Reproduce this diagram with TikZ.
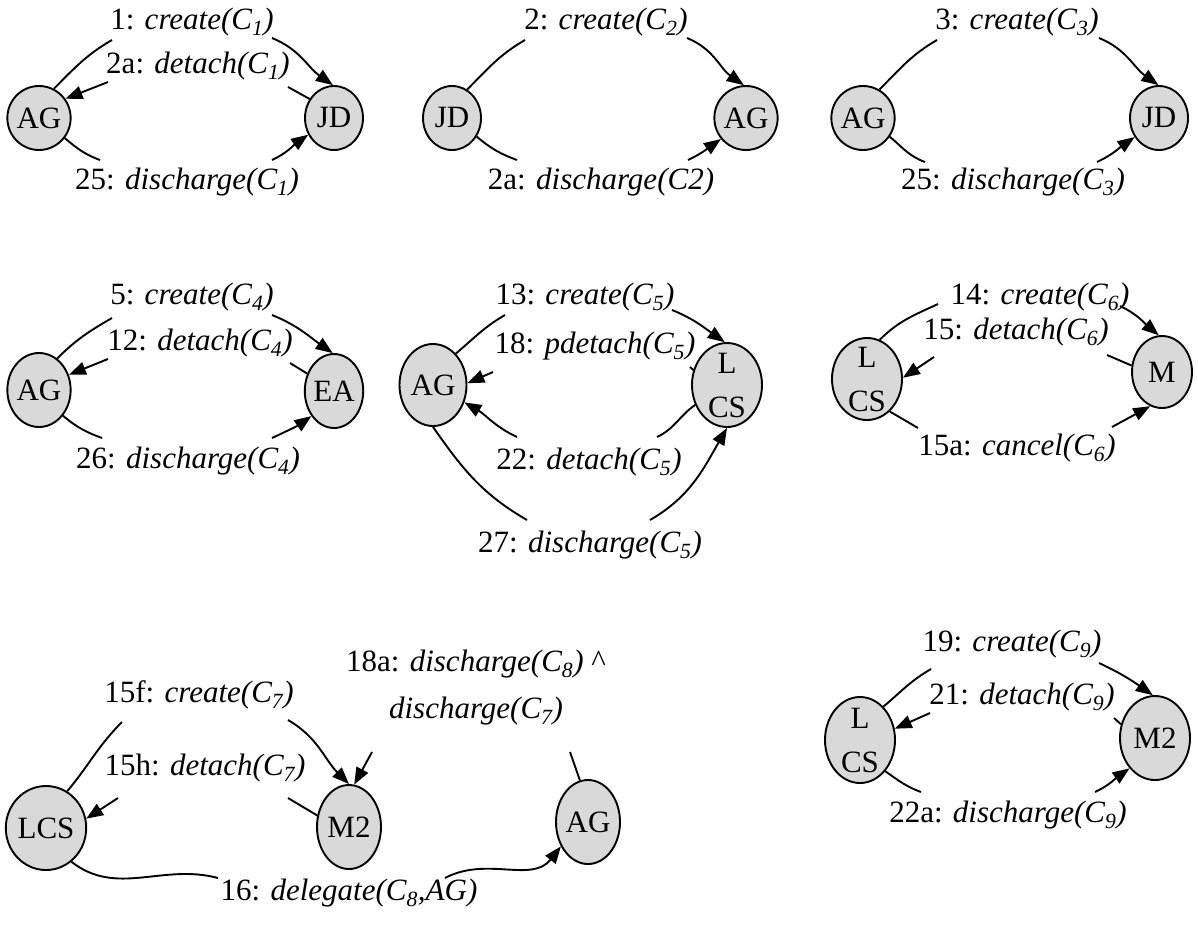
\documentclass[tikz,border=0pt]{standalone}
\usepackage{fontspec}
\setmainfont{Liberation Serif}
\usetikzlibrary{shapes.geometric,arrows.meta}
\newcommand\lblfont{\fontsize{31}{47}\selectfont}
\newcommand\agfont{\fontsize{31}{44}\selectfont}
\tikzset{
  agent/.style={ellipse, draw, line width=1.9pt, fill=black!15, inner sep=0pt,
    minimum width=58pt, minimum height=64pt, font=\agfont},
  agtxt/.style={align=center, font=\agfont, inner sep=0pt},
  lbl/.style={inner sep=0pt, font=\lblfont},
  conn/.style={line width=1.9pt},
  arr/.style={line width=1.9pt, -{Triangle[length=17pt,width=13pt]}},
}
\begin{document}
\begin{tikzpicture}[x=1pt,y=1pt]
\useasboundingbox (0,0) rectangle (1198,-926);
% ---------------- Diagram 1
\node[agent] (AG1) at (39,-118) {AG};
\node[agent] (JD1) at (334,-118) {JD};
\node[lbl] (t1) at (192,-22) {1: \textit{create(C\textsubscript{1})}};
\node[lbl] (t2) at (198,-66) {2a: \textit{detach(C\textsubscript{1})}};
\node[lbl] (t3) at (187,-182) {25: \textit{discharge(C\textsubscript{1})}};
\coordinate (p1) at (112,-40); \coordinate (q1) at (272,-38);
\coordinate (p2) at (288,-87); \coordinate (q2) at (108,-82);
\coordinate (p3) at (100,-160); \coordinate (q3) at (272,-160);
\draw[conn] (AG1.63) to[out=45,in=210] (p1);
\draw[arr] (q1) to[out=-22,in=145] (JD1.92);
\draw[conn] (JD1.142) -- (p2);
\draw[arr] (q2) -- (AG1.36);
\draw[conn] (AG1.-38) to[out=-40,in=160] (p3);
\draw[arr] (q3) to[out=25,in=-145] (JD1.-147);
% ---------------- Diagram 2
\node[agent] (JD2) at (452,-118) {JD};
\node[agent] (AG2) at (746,-118) {AG};
\node[lbl] (t4) at (606,-22) {2: \textit{create(C\textsubscript{2})}};
\node[lbl] (t5) at (601,-182) {2a: \textit{discharge(C2)}};
\coordinate (p4) at (525,-40); \coordinate (q4) at (687,-38);
\coordinate (p5) at (517,-160); \coordinate (q5) at (688,-160);
\draw[conn] (JD2.62) to[out=45,in=210] (p4);
\draw[arr] (q4) to[out=-22,in=145] (AG2.94);
\draw[conn] (JD2.-37) to[out=-40,in=160] (p5);
\draw[arr] (q5) to[out=25,in=-145] (AG2.-140);
% ---------------- Diagram 3
\node[agent] (AG3) at (863,-118) {AG};
\node[agent] (JD3) at (1159,-118) {JD};
\node[lbl] (t6) at (1017,-22) {3: \textit{create(C\textsubscript{3})}};
\node[lbl] (t7) at (1013,-182) {25: \textit{discharge(C\textsubscript{3})}};
\coordinate (p6) at (937,-40); \coordinate (q6) at (1099,-38);
\coordinate (p7) at (925,-162); \coordinate (q7) at (1097,-162);
\draw[conn] (AG3.60) to[out=45,in=210] (p6);
\draw[arr] (q6) to[out=-22,in=145] (JD3.91);
\draw[conn] (AG3.-35) to[out=-40,in=160] (p7);
\draw[arr] (q7) to[out=25,in=-145] (JD3.-142);
% ---------------- Diagram 4
\node[agent, minimum height=74pt] (AG4) at (39,-390) {AG};
\node[agent, minimum height=74pt] (EA4) at (334,-391) {EA};
\node[lbl] (t8) at (192,-297) {5: \textit{create(C\textsubscript{4})}};
\node[lbl] (t9) at (200,-343) {12: \textit{detach(C\textsubscript{4})}};
\node[lbl] (t10) at (188,-461) {26: \textit{discharge(C\textsubscript{4})}};
\coordinate (p8) at (112,-318); \coordinate (q8) at (272,-315);
\coordinate (p9) at (290,-363); \coordinate (q9) at (108,-359);
\coordinate (p10) at (102,-438); \coordinate (q10) at (272,-438);
\draw[conn] (AG4.60) to[out=45,in=210] (p8);
\draw[arr] (q8) to[out=-22,in=145] (EA4.92);
\draw[conn] (EA4.147) -- (p9);
\draw[arr] (q9) -- (AG4.27);
\draw[conn] (AG4.-47) to[out=-40,in=160] (p10);
\draw[arr] (q10) to[out=25,in=-145] (EA4.-132);
% ---------------- Diagram 5
\node[agent, minimum width=67pt, minimum height=82pt] (AG5) at (433,-385) {AG};
\node[agent, minimum width=70pt, minimum height=84pt, label={[agtxt]center:L\\CS}] (LCS5) at (727,-385) {};
\node[lbl] (t11) at (585,-297) {13: \textit{create(C\textsubscript{5})}};
\node[lbl] (t12) at (595,-346) {18: \textit{pdetach(C\textsubscript{5})}};
\node[lbl] (t13) at (589,-462) {22: \textit{detach(C\textsubscript{5})}};
\node[lbl] (t14) at (590,-545) {27: \textit{discharge(C\textsubscript{5})}};
\coordinate (p11) at (505,-315); \coordinate (q11) at (672,-310);
\coordinate (p12) at (690,-367); \coordinate (q12) at (493,-372);
\coordinate (p13) at (657,-437); \coordinate (q13) at (517,-437);
\coordinate (p14) at (527,-520); \coordinate (q14) at (650,-520);
\draw[conn] (AG5.54) to[out=40,in=210] (p11);
\draw[arr] (q11) to[out=-22,in=145] (LCS5.93);
\draw[conn] (LCS5.156) -- (p12);
\draw[arr] (q12) -- (AG5.3);
\draw[conn] (LCS5.212) to[out=215,in=25] (p13);
\draw[arr] (q13) to[out=155,in=-30] (AG5.-29);
\draw[conn] (AG5.-90) to[out=-55,in=150] (p14);
\draw[arr] (q14) to[out=30,in=-120] (LCS5.-90);
% ---------------- Diagram 6
\node[agent, minimum width=70pt, minimum height=82pt, label={[agtxt]center:L\\CS}] (LCS6) at (867,-379) {};
\node[agent, minimum width=60pt, minimum height=72pt] (M6) at (1162,-372) {M};
\node[lbl] (t15) at (1040,-297) {14: \textit{create(C\textsubscript{6})}};
\node[lbl] (t16) at (1016,-332) {15: \textit{detach(C\textsubscript{6})}};
\node[lbl] (t17) at (1017,-448) {15a: \textit{cancel(C\textsubscript{6})}};
\coordinate (p15) at (938,-304); \coordinate (q15) at (1120,-306);
\coordinate (p16) at (1107,-355); \coordinate (q16) at (934,-357);
\coordinate (p17) at (918,-428); \coordinate (q17) at (1112,-427);
\draw[conn] (LCS6.72) to[out=45,in=205] (p15);
\draw[arr] (q15) to[out=-25,in=140] (M6.95);
\draw[conn] (M6.168) -- (p16);
\draw[arr] (q16) -- (LCS6.2);
\draw[conn] (LCS6.-55) -- (p17);
\draw[arr] (q17) -- (M6.251);
% ---------------- Diagram 7
\node[agent, minimum width=70pt, minimum height=84pt] (LCS7) at (46,-828) {LCS};
\node[agent, minimum width=64pt, minimum height=84pt] (M27) at (349,-827) {M2};
\node[agent, minimum width=64pt, minimum height=84pt] (AG7) at (588,-822) {AG};
\node[lbl] (t18) at (199,-695) {15f: \textit{create(C\textsubscript{7})}};
\node[lbl] (t19) at (205,-768) {15h: \textit{detach(C\textsubscript{7})}};
\node[lbl, align=center] (t20) at (476,-688) {18a: \textit{discharge(C\textsubscript{8})} \textasciicircum\\\textit{discharge(C\textsubscript{7})}};
\node[lbl] (t21) at (349,-893) {16: \textit{delegate(C\textsubscript{8},AG)}};
\coordinate (p18) at (122,-722); \coordinate (q18) at (288,-720);
\coordinate (p19) at (288,-798); \coordinate (q19) at (118,-798);
\coordinate (p20) at (570,-752); \coordinate (q20) at (372,-752);
\coordinate (p21) at (218,-878); \coordinate (q21) at (445,-878);
\draw[conn] (LCS7.60) to[out=50,in=225] (p18);
\draw[arr] (q18) to[out=-30,in=135] (M27.90);
\draw[conn] (M27.160) -- (p19);
\draw[arr] (q19) -- (LCS7.13);
\draw[conn] (AG7.101) -- (p20);
\draw[arr] (q20) -- (M27.83);
\draw[conn] (LCS7.-53) to[out=-38,in=165] (p21);
\draw[arr] (q21) to[out=28,in=-128] (AG7.222);
% ---------------- Diagram 8
\node[agent, minimum width=70pt, minimum height=86pt, label={[agtxt]center:L\\CS}] (LCS8) at (860,-740) {};
\node[agent, minimum width=70pt, minimum height=84pt] (M28) at (1155,-738) {M2};
\node[lbl] (t22) at (1012,-644) {19: \textit{create(C\textsubscript{9})}};
\node[lbl] (t23) at (1022,-697) {21: \textit{detach(C\textsubscript{9})}};
\node[lbl] (t24) at (1008,-815) {22a: \textit{discharge(C\textsubscript{9})}};
\coordinate (p22) at (931,-669); \coordinate (q22) at (1099,-663);
\coordinate (p23) at (1114,-718); \coordinate (q23) at (930,-713);
\coordinate (p24) at (921,-792); \coordinate (q24) at (1095,-792);
\draw[conn] (LCS8.55) to[out=40,in=210] (p22);
\draw[arr] (q22) to[out=-25,in=145] (M28.93);
\draw[conn] (M28.158) -- (p23);
\draw[arr] (q23) -- (LCS8.18);
\draw[conn] (LCS8.-51) to[out=-35,in=160] (p24);
\draw[arr] (q24) to[out=25,in=-145] (M28.230);
\end{tikzpicture}
\end{document}
